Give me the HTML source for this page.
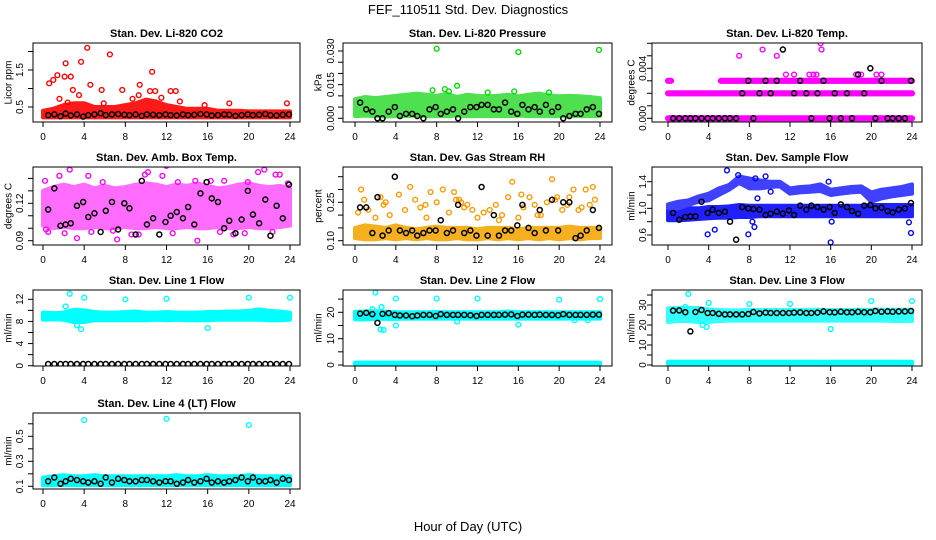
<!DOCTYPE html>
<html><head><meta charset="utf-8">
<style>
html,body{margin:0;padding:0;background:#fff;}
svg{display:block;font-family:"Liberation Sans",Arial,sans-serif;}
</style></head>
<body>
<svg id="chart" width="936" height="540" viewBox="0 0 936 540">
<text x="468" y="14" text-anchor="middle" font-size="13">FEF_110511  Std. Dev. Diagnostics</text>
<text x="468" y="531" text-anchor="middle" font-size="13">Hour of Day (UTC)</text>
</svg>
<script>
// ---------- shared categories ----------
const blackHours = [0.5,1.1,1.7,2.2,2.7,3.3,3.9,4.4,5.0,5.6,6.1,6.7,7.3,7.9,8.4,9.0,9.6,10.1,10.7,11.3,11.9,12.4,13.0,13.6,14.1,14.7,15.3,15.9,16.4,17.0,17.6,18.1,18.7,19.3,19.9,20.4,21.0,21.6,22.1,22.7,23.3,23.9];
const bandHours = [0,1,2,3,4,5,6,7,8,9,10,11,12,13,14,15,16,17,18,19,20,21,22,23,24];
const xTicks = [0,4,8,12,16,20,24];

// ---------- CO2 ----------
const co2Black = [0.28,0.3,0.25,0.32,0.27,0.3,0.24,0.28,0.3,0.33,0.28,0.3,0.31,0.29,0.28,0.3,0.26,0.3,0.29,0.28,0.3,0.28,0.27,0.3,0.28,0.29,0.31,0.3,0.27,0.28,0.3,0.29,0.26,0.28,0.3,0.28,0.29,0.31,0.28,0.27,0.29,0.3];
const co2Lo = [0.22,0.22,0.22,0.22,0.22,0.22,0.22,0.22,0.22,0.22,0.22,0.22,0.22,0.22,0.22,0.22,0.22,0.22,0.22,0.22,0.22,0.22,0.22,0.22,0.22];
const co2Hi = [0.4,0.45,0.55,0.6,0.6,0.5,0.5,0.5,0.55,0.6,0.7,0.65,0.55,0.5,0.45,0.45,0.45,0.4,0.4,0.4,0.38,0.38,0.38,0.38,0.38];
const co2OutX = [4.3,3.7,2.2,1.4,1.0,0.6,2.1,2.7,4.6,6.5,10.6,2.9,3.5,5.7,7.7,9.4,12.4,12.9,10.4,10.9,18.1,23.7,15.7,1.6,9.3,2.4,5.9,8.7,11.5,13.3];
const co2OutY = [2.1,1.72,1.68,1.36,1.23,1.14,1.32,1.32,1.1,1.92,1.45,0.96,0.82,0.96,0.96,1.1,0.93,0.93,0.93,0.93,0.6,0.6,0.55,0.72,0.82,0.62,0.6,0.72,0.75,0.65];

// ---------- Pressure ----------
const presBlack = [0.007,0.004,0.003,0.000,0.000,0.003,0.005,0.001,0.002,0.002,0.001,0.000,0.004,0.005,0.002,0.003,0.004,0.000,0.003,0.005,0.005,0.006,0.006,0.004,0.004,0.007,0.003,0.002,0.006,0.004,0.005,0.003,0.006,0.003,0.005,0.000,0.001,0.002,0.002,0.004,0.005,0.002];
const presLo = [0.001,0.0012,0.001,0.0008,0.001,0.001,0.0012,0.001,0.001,0.001,0.0012,0.001,0.001,0.001,0.001,0.001,0.0012,0.001,0.001,0.001,0.001,0.001,0.001,0.001,0.001];
const presHi = [0.0085,0.0095,0.009,0.0095,0.01,0.0105,0.011,0.0105,0.01,0.011,0.0095,0.0105,0.01,0.0098,0.01,0.0105,0.0098,0.0105,0.011,0.0102,0.0098,0.01,0.0098,0.0095,0.009];
const presOutX = [8.0,16.0,23.9,10.0,8.8,9.2,15.6,7.6,13.0,19.0];
const presOutY = [0.031,0.0295,0.0305,0.0145,0.013,0.012,0.012,0.0125,0.0115,0.0115];

// ---------- Li-820 Temp ----------
const tempBlack = [0,0,0,0,0,0,0,0,0,0,0,0,0.002,0.003,0,0.002,0.003,0.002,0.003,0.0055,0.0065,0.002,0.003,0.002,0,0.002,0.003,0,0.002,0,0.002,0,0.0035,0.002,0.004,0,0.003,0,0,0,0,0.003];
const tempLevel = [0,0.002,0.003,0.003];
const tempStart = [0,0,0,5.2];
const tempEnd = [24,24,0.3,24];
const tempOutX = [7.0,9.3,10.7,14.9,15.0,15.1,11.6,12.4,13.9,14.3,14.6,18.5,19.0,20.5,21.0];
const tempOutY = [0.005,0.0055,0.005,0.0065,0.006,0.0055,0.0035,0.0035,0.0035,0.0035,0.0035,0.0035,0.0035,0.0035,0.0035];

// ---------- Amb box temp ----------
const ambBlack = [0.115,0.132,0.102,0.103,0.104,0.118,0.121,0.109,0.112,0.097,0.114,0.121,0.099,0.12,0.116,0.095,0.138,0.103,0.108,0.095,0.105,0.11,0.113,0.108,0.117,0.103,0.128,0.137,0.124,0.121,0.1,0.106,0.096,0.107,0.13,0.111,0.104,0.123,0.094,0.118,0.108,0.135];
const ambLo = [0.102,0.1,0.101,0.1,0.1,0.101,0.1,0.1,0.101,0.1,0.1,0.101,0.1,0.1,0.101,0.1,0.1,0.101,0.1,0.1,0.101,0.1,0.1,0.101,0.102];
const ambHi = [0.13,0.133,0.135,0.133,0.135,0.132,0.134,0.132,0.133,0.135,0.136,0.135,0.133,0.135,0.134,0.136,0.134,0.132,0.133,0.135,0.136,0.134,0.133,0.134,0.132];
const ambOutX = [0.2,0.5,1.6,2.6,3.3,4.4,5.8,7.2,8.6,9.9,10.2,11.6,12.0,13.1,14.8,15.0,16.3,17.6,18.5,19.9,20.9,21.5,22.6,23.0,23.8,0.3,2.1,4.7,6.8,9.3,12.6,17.2,19.6,22.3];
const ambOutY = [0.138,0.097,0.142,0.147,0.092,0.142,0.137,0.091,0.095,0.143,0.145,0.142,0.15,0.137,0.138,0.09,0.138,0.138,0.095,0.137,0.145,0.147,0.143,0.143,0.136,0.099,0.096,0.097,0.098,0.095,0.096,0.097,0.096,0.097];

// ---------- Gas stream RH ----------
const rhBlack = [0.23,0.23,0.13,0.27,0.12,0.14,0.35,0.14,0.13,0.14,0.12,0.13,0.14,0.14,0.18,0.13,0.14,0.24,0.13,0.14,0.12,0.31,0.12,0.2,0.12,0.14,0.14,0.16,0.24,0.15,0.13,0.22,0.14,0.26,0.14,0.25,0.25,0.11,0.12,0.14,0.22,0.15];
const rhLo = [0.11,0.105,0.105,0.11,0.105,0.11,0.105,0.11,0.105,0.105,0.11,0.105,0.105,0.11,0.105,0.11,0.105,0.11,0.105,0.11,0.105,0.11,0.105,0.11,0.11];
const rhHi = [0.15,0.16,0.155,0.15,0.16,0.15,0.145,0.15,0.155,0.15,0.15,0.15,0.145,0.15,0.15,0.15,0.145,0.15,0.15,0.15,0.15,0.155,0.15,0.15,0.15];
const rhOutX = [0.6,0.9,1.3,2.0,2.5,3.0,3.4,4.3,4.9,5.4,5.9,6.4,6.9,7.4,8.0,8.6,9.2,9.7,10.2,10.7,11.0,11.5,12.0,13.2,13.8,14.4,15.0,15.4,16.0,16.5,17.1,17.6,18.2,18.8,19.3,19.8,20.3,20.8,21.4,21.9,22.6,23.0,23.5,0.3,2.8,7.0,9.9,10.4,12.6,14.1,16.3,17.9,19.6,21.0,22.2,23.3];
const rhOutY = [0.3,0.26,0.22,0.19,0.27,0.25,0.2,0.28,0.22,0.31,0.26,0.23,0.24,0.29,0.25,0.3,0.21,0.29,0.26,0.23,0.24,0.22,0.19,0.22,0.24,0.2,0.27,0.33,0.19,0.23,0.27,0.24,0.2,0.25,0.34,0.27,0.22,0.24,0.3,0.22,0.3,0.24,0.26,0.21,0.24,0.19,0.26,0.25,0.21,0.18,0.28,0.2,0.26,0.27,0.23,0.31];

// ---------- Sample flow ----------
const flowBlack = [0.93,0.83,0.87,0.88,0.88,1.1,0.93,0.98,0.93,0.95,0.8,0.53,1.02,1.0,0.99,0.98,0.9,0.92,0.95,0.92,0.97,0.9,1.04,0.98,1.04,1.02,0.98,1.02,0.93,1.06,1.02,0.96,0.92,1.04,1.05,1.0,1.01,0.96,0.94,0.98,1.0,1.08];
const flowLo = [0.82,0.82,0.83,0.84,0.85,0.86,0.86,0.87,0.87,0.88,0.88,0.88,0.88,0.88,0.88,0.88,0.88,0.88,0.88,0.88,0.88,0.88,0.88,0.88,0.88];
const flowHi = [0.98,1.0,1.0,1.0,1.02,1.02,1.03,1.05,1.04,1.04,1.04,1.04,1.04,1.04,1.04,1.04,1.04,1.04,1.04,1.04,1.05,1.05,1.05,1.05,1.05];
const flowUpLo = [1.0,1.0,1.05,1.1,1.12,1.2,1.28,1.38,1.3,1.3,1.32,1.33,1.22,1.24,1.25,1.26,1.2,1.22,1.24,1.25,1.1,1.15,1.18,1.2,1.22];
const flowUpHi = [1.06,1.1,1.12,1.18,1.22,1.3,1.35,1.48,1.45,1.42,1.4,1.4,1.3,1.32,1.33,1.36,1.28,1.3,1.32,1.33,1.24,1.28,1.3,1.32,1.36];
const flowOutX = [5.8,9.6,3.9,4.6,7.9,8.3,8.5,16.0,16.1,23.7,23.9,6.9,8.6,8.8,15.8,10.1];
const flowOutY = [1.57,1.48,0.61,0.68,0.61,0.8,0.72,0.49,0.8,0.79,0.63,1.5,1.45,1.15,1.4,1.25];

// ---------- Line 1 ----------
const line1Black = [0.3,0.3,0.3,0.3,0.3,0.3,0.3,0.3,0.3,0.3,0.3,0.3,0.3,0.3,0.3,0.3,0.3,0.3,0.3,0.3,0.3,0.3,0.3,0.3,0.3,0.3,0.3,0.3,0.3,0.3,0.3,0.3,0.3,0.3,0.3,0.3,0.3,0.3,0.3,0.3,0.3,0.3];
const line1Lo = [8.3,8.4,8.3,7.9,7.9,8.2,8.2,8.2,8.2,8.2,8.2,8.3,8.2,8.3,8.2,8.2,8.2,8.3,8.3,8.3,8.3,8.3,8.2,8.2,8.3];
const line1Hi = [9.6,9.5,9.6,10.1,10.0,9.7,9.6,9.6,9.7,9.8,9.6,9.6,9.7,9.6,9.6,9.6,9.7,9.7,9.8,9.8,9.9,10.2,9.9,9.8,9.6];
const line1OutX = [2.6,2.2,4.0,8.0,12.0,20.0,24.0,3.3,3.7,16.0];
const line1OutY = [13.0,10.7,12.3,12.0,12.1,12.3,12.3,7.3,6.6,6.8];

// ---------- Line 2 ----------
const line2Black = [19.5,19.8,19.3,16.0,19.4,19.7,19.0,18.8,18.8,18.5,18.8,19.0,19.0,18.6,19.3,19.0,19.0,19.0,19.0,18.9,18.6,19.0,19.0,19.0,19.0,19.1,19.2,18.6,19.1,19.1,19.0,19.1,19.0,19.0,18.9,19.3,19.0,19.0,19.0,19.0,19.1,19.1];
const line2Lo = [17.3,17.3,17.5,17.5,17.5,17.6,17.6,17.6,17.6,17.6,17.6,17.6,17.6,17.6,17.6,17.6,17.6,17.6,17.6,17.6,17.6,17.6,17.6,17.6,17.6];
const line2Hi = [20.2,20.3,20.4,20.2,20.0,20.0,20.0,20.0,20.1,20.0,20.0,20.0,20.0,20.0,20.0,20.3,20.0,20.0,20.0,20.0,20.0,20.0,20.0,20.0,20.0];
const line2OutX = [2.0,4.0,8.0,12.0,20.0,24.0,4.0,2.5,2.8,1.7,2.6,16.0,10.0,21.5,22.8];
const line2OutY = [27.5,25.2,25.2,25.2,24.8,25.0,15.0,13.5,13.3,21.2,22.0,15.3,16.5,17.0,17.0];

// ---------- Line 3 ----------
const line3Black = [27.2,27.3,26.4,16.8,26.5,27.5,26.0,26.0,25.6,25.3,25.3,25.3,25.3,25.5,26.5,25.8,26.2,26.0,26.0,26.0,26.0,26.2,26.3,26.0,26.0,26.2,26.8,26.4,26.3,26.6,26.4,26.4,26.6,26.4,26.4,27.0,26.6,26.8,26.6,26.8,26.8,27.0];
const line3Lo = [21.5,22.0,22.0,21.5,21.5,22.0,22.2,22.2,22.2,22.2,22.2,22.2,22.2,22.2,22.2,22.2,22.2,22.2,22.2,22.2,22.2,22.2,22.0,22.0,22.0];
const line3Hi = [28.3,28.5,28.5,28.5,27.8,27.5,27.3,27.3,27.5,27.5,27.5,27.5,27.5,27.5,27.6,27.6,27.5,27.5,27.5,27.6,27.6,27.6,27.6,27.6,27.6];
const line3OutX = [2.0,4.0,8.0,12.0,20.0,24.0,3.8,3.4,16.0,1.7];
const line3OutY = [35.5,31.0,30.5,30.5,32.0,32.0,19.0,20.0,18.0,29.0];

// ---------- Line 4 ----------
const line4Black = [0.14,0.17,0.12,0.14,0.16,0.15,0.14,0.13,0.14,0.12,0.17,0.13,0.16,0.15,0.14,0.14,0.15,0.15,0.14,0.13,0.14,0.14,0.12,0.13,0.15,0.13,0.14,0.16,0.13,0.14,0.13,0.14,0.15,0.17,0.14,0.17,0.14,0.14,0.15,0.13,0.16,0.15];
const line4Lo = [0.11,0.11,0.11,0.11,0.11,0.11,0.11,0.11,0.11,0.11,0.11,0.11,0.11,0.11,0.11,0.11,0.11,0.11,0.11,0.11,0.11,0.11,0.11,0.11,0.11];
const line4Hi = [0.17,0.18,0.19,0.18,0.18,0.19,0.18,0.18,0.18,0.18,0.18,0.18,0.18,0.19,0.18,0.18,0.19,0.18,0.18,0.18,0.19,0.18,0.18,0.18,0.18];
const line4OutX = [4.0,12.0,20.0];
const line4OutY = [0.63,0.64,0.59];

// ---------- layout ----------
const NS = "http://www.w3.org/2000/svg";
const svg = document.getElementById("chart");
const cols = [{l:33,r:300,x0:43,x24:290,yt:8,tl:23},{l:343,r:612,x0:355,x24:600,yt:318,tl:334},{l:652,r:922,x0:668,x24:912,yt:631,tl:646}];
const rows = [{t:43,b:122},{t:167,b:245},{t:290,b:366},{t:413,b:489}];

function el(tag, attrs, parent){const e=document.createElementNS(NS,tag);for(const k in attrs)e.setAttribute(k,attrs[k]);(parent||svg).appendChild(e);return e;}

function panel(opt){
  const c=cols[opt.col], r=rows[opt.row];
  const g=el("g",{});
  
  
  const xs=h=>c.x0+(c.x24-c.x0)*h/24;
  const ys=v=>opt.p0+(v-opt.v0)*(opt.p1-opt.p0)/(opt.v1-opt.v0);
  const clipId="clip"+opt.col+opt.row;
  const cp=el("clipPath",{id:clipId},g);
  el("rect",{x:c.l,y:r.t,width:c.r-c.l,height:r.b-r.t},cp);
  const plot=el("g",{"clip-path":"url(#"+clipId+")"},g);
  (opt.bands||[]).forEach(b=>{
    let d="";
    bandHours.forEach((h,i)=>{d+=(i?"L":"M")+xs(h).toFixed(1)+","+ys(b.hi[i]).toFixed(1);});
    for(let i=bandHours.length-1;i>=0;i--) d+="L"+xs(bandHours[i]).toFixed(1)+","+ys(b.lo[i]).toFixed(1);
    const p=el("path",{d:d+"Z",fill:b.color,stroke:b.color,"stroke-width":4,"stroke-linejoin":"round"},plot);
    
    
  });
  if(opt.levels){
    opt.levels.lev.forEach((lv,i)=>{
      for(let h=opt.levels.st[i];h<=opt.levels.en[i]+1e-6;h+=0.1){
        const ci=el("circle",{cx:xs(h),cy:ys(lv),r:2.4,fill:"none",stroke:opt.color,"stroke-width":1.3},plot);
        
        
      }
    });
  }
  (opt.outX||[]).forEach((h,i)=>{
    const ci=el("circle",{cx:xs(h),cy:ys(opt.outY[i]),r:2.4,fill:"none",stroke:opt.color,"stroke-width":1.4},plot);
    
    
  });
  blackHours.forEach((h,i)=>{
    const ci=el("circle",{cx:xs(h),cy:ys(opt.black[i]),r:2.5,fill:"none",stroke:"#000","stroke-width":1.5},plot);
    
    
  });
  el("rect",{x:c.l,y:r.t,width:c.r-c.l,height:r.b-r.t,fill:"none",stroke:"#000","stroke-width":1},g);
  xTicks.forEach(t=>{
    el("line",{x1:xs(t),x2:xs(t),y1:r.b,y2:r.b+5,stroke:"#000"},g);
    const tx=el("text",{x:xs(t),y:r.b+18,"text-anchor":"middle","font-size":10},g);
    tx.textContent=t;
    
    
  });
  opt.yTicks.forEach(t=>{
    el("line",{x1:c.l,x2:c.l-5,y1:ys(t),y2:ys(t),stroke:"#000"},g);
  });
  opt.yLabels.forEach(t=>{
    const y=ys(parseFloat(t));
    const tx=el("text",{x:c.tl,y:y,"text-anchor":"middle","font-size":10,transform:"rotate(-90 "+c.tl+" "+y+")"},g);
    tx.textContent=t;
    
    
  });
  const my=(r.t+r.b)/2;
  const yt=el("text",{x:c.yt,y:my,"text-anchor":"middle","font-size":10,transform:"rotate(-90 "+c.yt+" "+my+")",dy:"0.35em"},g);
  yt.textContent=opt.ytitle;
  
  
  const tt=el("text",{x:(c.l+c.r)/2,y:r.t-6,"text-anchor":"middle","font-size":11,"font-weight":"bold"},g);
  tt.textContent=opt.title;
  
  
}

panel({name:"co2-panel",col:0,row:0,title:"Stan. Dev. Li-820 CO2",ytitle:"Licor ppm",v0:0.5,p0:107,v1:1.5,p1:70,
  yTicks:[0.5,1.0,1.5,2.0],yLabels:["0.5","1.5"],color:"#ff0000",black:co2Black,
  bands:[{lo:co2Lo,hi:co2Hi,color:"#ff1a1a"}],outX:co2OutX,outY:co2OutY});
panel({name:"pressure-panel",col:1,row:0,title:"Stan. Dev. Li-820 Pressure",ytitle:"kPa",v0:0,p0:118.3,v1:0.03,p1:51,
  yTicks:[0,0.005,0.01,0.015,0.02,0.025,0.03],yLabels:["0.000","0.015","0.030"],color:"#00dd00",black:presBlack,
  bands:[{lo:presLo,hi:presHi,color:"#4ee04e"}],outX:presOutX,outY:presOutY});
panel({name:"li820-temp-panel",col:2,row:0,title:"Stan. Dev. Li-820 Temp.",ytitle:"degrees C",v0:0,p0:118.3,v1:0.004,p1:68.3,
  yTicks:[0,0.001,0.002,0.003,0.004,0.005,0.006],yLabels:["0.000","0.004"],color:"#ff00ff",black:tempBlack,
  levels:{lev:tempLevel,st:tempStart,en:tempEnd},outX:tempOutX,outY:tempOutY});
panel({name:"amb-box-temp-panel",col:0,row:1,title:"Stan. Dev. Amb. Box Temp.",ytitle:"degrees C",v0:0.09,p0:240.7,v1:0.12,p1:203.3,
  yTicks:[0.09,0.1,0.11,0.12,0.13,0.14],yLabels:["0.09","0.12"],color:"#ff00ff",black:ambBlack,
  bands:[{lo:ambLo,hi:ambHi,color:"#ff6cff"}],outX:ambOutX,outY:ambOutY});
panel({name:"gas-rh-panel",col:1,row:1,title:"Stan. Dev. Gas Stream RH",ytitle:"percent",v0:0.1,p0:240.7,v1:0.25,p1:202.3,
  yTicks:[0.1,0.15,0.2,0.25,0.3,0.35],yLabels:["0.10","0.25"],color:"#ff9900",black:rhBlack,
  bands:[{lo:rhLo,hi:rhHi,color:"#f5b020"}],outX:rhOutX,outY:rhOutY});
panel({name:"sample-flow-panel",col:2,row:1,title:"Stan. Dev. Sample Flow",ytitle:"ml/min",v0:0.6,p0:235,v1:1.4,p1:181.7,
  yTicks:[0.6,0.8,1.0,1.2,1.4],yLabels:["0.6","1.0","1.4"],color:"#0000ff",black:flowBlack,
  bands:[{lo:flowLo,hi:flowHi,color:"#2020ff"},{lo:flowUpLo,hi:flowUpHi,color:"#4040ff"}],outX:flowOutX,outY:flowOutY});
panel({name:"line1-flow-panel",col:0,row:2,title:"Stan. Dev. Line 1 Flow",ytitle:"ml/min",v0:0,p0:365.7,v1:12,p1:299.3,
  yTicks:[0,2,4,6,8,10,12],yLabels:["0","4","8","12"],color:"#00ffff",black:line1Black,
  bands:[{lo:line1Lo,hi:line1Hi,color:"#00ffff"}],outX:line1OutX,outY:line1OutY});
panel({name:"line2-flow-panel",col:1,row:2,title:"Stan. Dev. Line 2 Flow",ytitle:"ml/min",v0:0,p0:365,v1:20,p1:312.3,
  yTicks:[0,5,10,15,20,25],yLabels:["0","10","20"],color:"#00ffff",black:line2Black,
  bands:[{lo:line2Lo,hi:line2Hi,color:"#00ffff"},{lo:line1Lo.map(()=>0.1),hi:line1Lo.map(()=>0.9),color:"#00ffff"}],outX:line2OutX,outY:line2OutY});
panel({name:"line3-flow-panel",col:2,row:2,title:"Stan. Dev. Line 3 Flow",ytitle:"ml/min",v0:0,p0:365,v1:30,p1:305,
  yTicks:[0,5,10,15,20,25,30,35],yLabels:["0","10","20","30"],color:"#00ffff",black:line3Black,
  bands:[{lo:line3Lo,hi:line3Hi,color:"#33ffff"},{lo:line1Lo.map(()=>0.4),hi:line1Lo.map(()=>1.6),color:"#00ffff"}],outX:line3OutX,outY:line3OutY});
panel({name:"line4-flow-panel",col:0,row:3,title:"Stan. Dev. Line 4 (LT) Flow",ytitle:"ml/min",v0:0.1,p0:486.3,v1:0.5,p1:436.3,
  yTicks:[0.1,0.2,0.3,0.4,0.5,0.6],yLabels:["0.1","0.3","0.5"],color:"#00ffff",black:line4Black,
  bands:[{lo:line4Lo,hi:line4Hi,color:"#00ffff"}],outX:line4OutX,outY:line4OutY});
</script>
</body></html>
